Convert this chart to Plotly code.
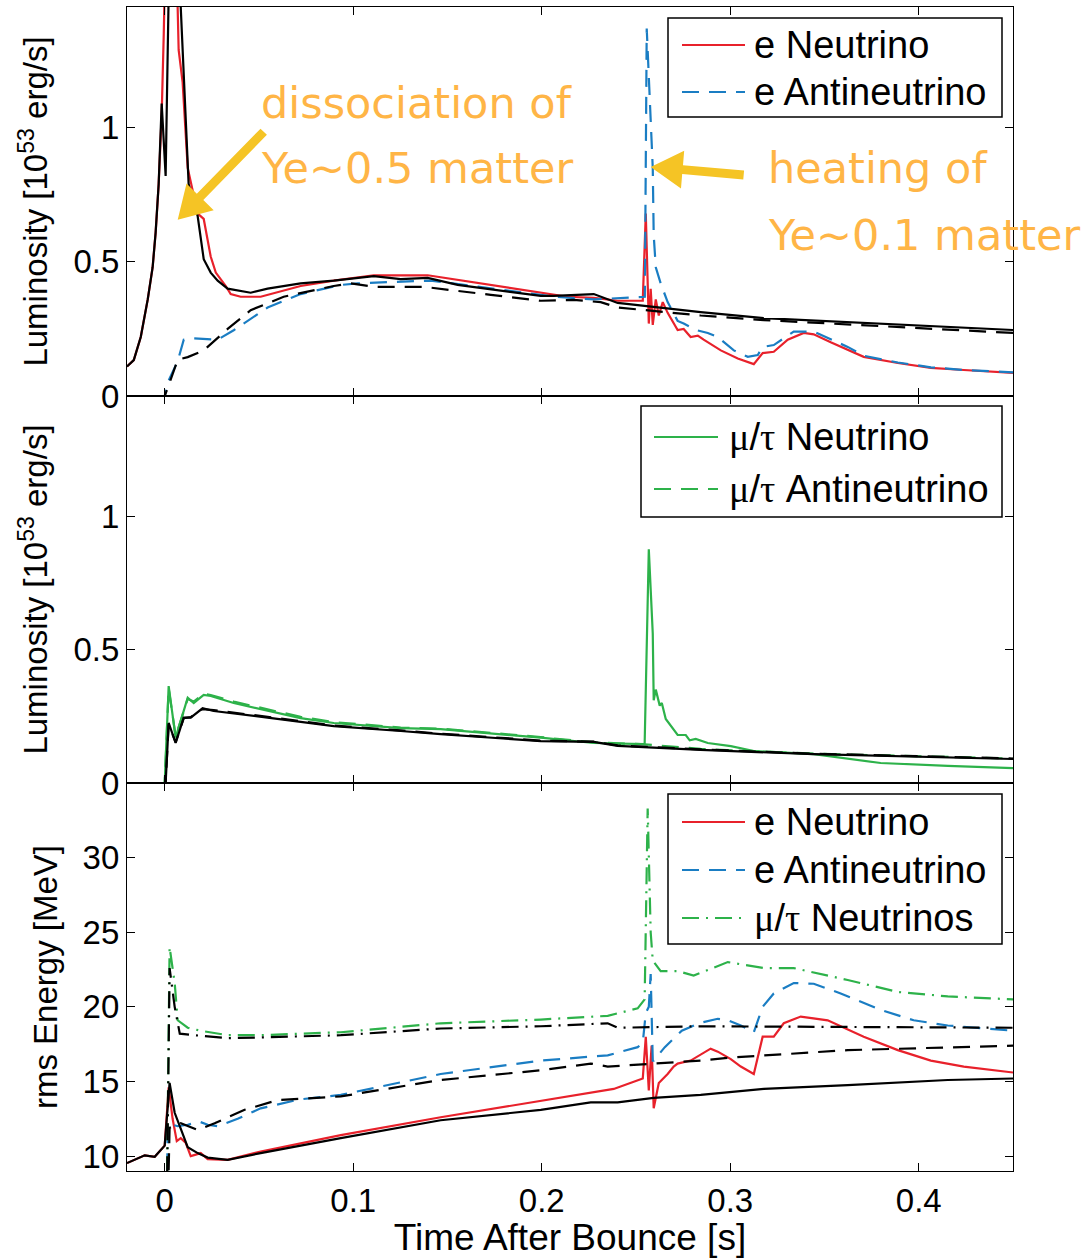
import math
import plotly.graph_objects as go
from plotly.subplots import make_subplots

# ---------------- colours / styles ----------------
RED = "#E8212B"
BLUE = "#1A7DC3"
GREEN = "#2DB24A"
BLACK = "#000000"
DASH = "17px,10px"
DASHDOT = "17px,7px,2px,7px"
FONT = "Liberation Sans, Arial, Helvetica, sans-serif"

# ---------------- panel 1: electron-flavour luminosities ----------------
t_nue = [-0.02, -0.0164, -0.0127, -0.009, -0.0064, -0.0048, -0.0032, -0.0016, -0.0005,
         0.003, 0.0074, 0.0095, 0.0122, 0.0175, 0.0207, 0.0244, 0.0271, 0.0324, 0.035,
         0.0403, 0.0509, 0.0721, 0.0897, 0.1109, 0.1395, 0.1995, 0.2138, 0.2276, 0.2403,
         0.2536, 0.2552, 0.2568, 0.2578, 0.2589, 0.2605, 0.2621, 0.2642, 0.2668, 0.2721,
         0.2753, 0.279, 0.2828, 0.2859, 0.295, 0.304, 0.3125, 0.3172, 0.3231, 0.3305,
         0.339, 0.3443, 0.3533, 0.3708, 0.3889, 0.4064, 0.4239, 0.45]
L_nue = [0.11, 0.134, 0.22, 0.36, 0.48, 0.61, 0.79, 1.05, 1.35,
         2.6, 1.29, 1.17, 0.85, 0.68, 0.66, 0.52, 0.46, 0.41, 0.38,
         0.37, 0.37, 0.41, 0.43, 0.45, 0.45, 0.385, 0.37, 0.366, 0.355,
         0.355, 0.68, 0.27, 0.40, 0.265, 0.36, 0.30, 0.35, 0.31, 0.246,
         0.25, 0.22, 0.225, 0.21, 0.17, 0.14, 0.119, 0.16, 0.165, 0.21,
         0.235, 0.23, 0.20, 0.146, 0.123, 0.105, 0.097, 0.086]

t_nue_ref = [-0.02, -0.0164, -0.0127, -0.009, -0.0064, -0.0048, -0.0032, -0.0016, 0.0005,
             0.001, 0.004, 0.0085, 0.0127, 0.0175, 0.0207, 0.0244, 0.0281, 0.0334, 0.0403,
             0.0456, 0.0546, 0.0721, 0.0897, 0.1109, 0.1252, 0.1395, 0.1554, 0.1995, 0.2064,
             0.2276, 0.2403, 0.2843, 0.3178, 0.45]
L_nue_ref = [0.11, 0.134, 0.22, 0.36, 0.48, 0.61, 0.79, 1.09, 0.82,
             1.2, 2.3, 1.45, 0.79, 0.67, 0.51, 0.46, 0.43, 0.40, 0.39,
             0.385, 0.40, 0.42, 0.43, 0.447, 0.436, 0.44, 0.414, 0.373, 0.373,
             0.38, 0.347, 0.313, 0.29, 0.246]

t_anue = [-0.02, 0.0, 0.0016, 0.0069, 0.0101, 0.0154, 0.0281, 0.0366, 0.0546, 0.0721,
          0.0934, 0.1024, 0.1199, 0.1411, 0.1639, 0.2064, 0.2276, 0.2435, 0.2547,
          0.2557, 0.2568, 0.2578, 0.2589, 0.2594, 0.2605, 0.2631, 0.2668, 0.2721,
          0.2753, 0.2817, 0.2881, 0.2934, 0.3019, 0.3093, 0.3146, 0.3172, 0.3231,
          0.3337, 0.3443, 0.3623, 0.3708, 0.3889, 0.4064, 0.4239, 0.45]
L_anue = [0.0, 0.0, 0.05, 0.13, 0.21, 0.215, 0.21, 0.245, 0.33, 0.38,
          0.414, 0.42, 0.425, 0.43, 0.41, 0.37, 0.36, 0.366, 0.37,
          1.37, 1.2, 1.0, 0.85, 0.6, 0.48, 0.42, 0.35, 0.28,
          0.27, 0.246, 0.235, 0.22, 0.17, 0.146, 0.153, 0.183, 0.19,
          0.24, 0.24, 0.183, 0.15, 0.125, 0.107, 0.097, 0.088]

t_anue_ref = [-0.02, 0.0, 0.0016, 0.0069, 0.0122, 0.0207, 0.0334, 0.0456, 0.0631, 0.0897,
              0.0987, 0.1109, 0.1374, 0.1517, 0.173, 0.1995, 0.217, 0.2313, 0.2403,
              0.2843, 0.3178, 0.45]
L_anue_ref = [0.0, 0.0, 0.03, 0.135, 0.145, 0.17, 0.25, 0.32, 0.37, 0.41,
              0.42, 0.407, 0.407, 0.396, 0.377, 0.355, 0.358, 0.35, 0.33,
              0.30, 0.283, 0.235]

# ---------------- panel 2: heavy-flavour luminosities ----------------
t_nux = [-0.02, 0.0, 0.0021, 0.0058, 0.0122, 0.0154, 0.0207, 0.0244, 0.0366, 0.0546,
         0.0721, 0.0897, 0.1252, 0.1464, 0.1995, 0.2276, 0.2525, 0.2546, 0.2568,
         0.2589, 0.2594, 0.2605, 0.2626, 0.2637, 0.2658, 0.2721, 0.2764, 0.2785,
         0.2817, 0.2881, 0.3003, 0.3125, 0.3443, 0.3798, 0.4154, 0.45]
L_nux = [0.0, 0.0, 0.363, 0.17, 0.32, 0.30, 0.33, 0.326, 0.30, 0.27,
         0.243, 0.225, 0.206, 0.202, 0.17, 0.15, 0.146, 0.146, 0.876,
         0.56, 0.31, 0.35, 0.29, 0.30, 0.24, 0.18, 0.18, 0.16,
         0.165, 0.15, 0.138, 0.12, 0.108, 0.075, 0.064, 0.056]

t_anux = [-0.02, 0.0, 0.0021, 0.0058, 0.0122, 0.0154, 0.0207, 0.0244, 0.0366, 0.0546,
          0.0721, 0.0897, 0.1252, 0.1464, 0.1995, 0.2276, 0.2525, 0.2843, 0.3443, 0.45]
L_anux = [0.0, 0.0, 0.355, 0.175, 0.315, 0.305, 0.335, 0.33, 0.305, 0.275,
          0.248, 0.228, 0.208, 0.204, 0.172, 0.152, 0.146, 0.128, 0.11, 0.092]

t_nux_ref = [-0.02, 0.0005, 0.0021, 0.0058, 0.0101, 0.0138, 0.0201, 0.026, 0.0546,
             0.0897, 0.1252, 0.1464, 0.1995, 0.2276, 0.2403, 0.2843, 0.3443, 0.45]
L_nux_ref = [0.0, 0.0, 0.225, 0.15, 0.245, 0.245, 0.28, 0.27, 0.245,
             0.213, 0.195, 0.183, 0.157, 0.154, 0.139, 0.124, 0.108, 0.09]
L_anux_ref = [0.0, 0.0, 0.22, 0.152, 0.243, 0.247, 0.277, 0.273, 0.248,
              0.215, 0.197, 0.185, 0.159, 0.155, 0.141, 0.126, 0.11, 0.092]

# ---------------- panel 3: rms energies ----------------
t_Enue = [-0.02, -0.0106, -0.0053, 0.0, 0.0021, 0.0042, 0.0064, 0.0085, 0.0111, 0.0138,
          0.0165, 0.0191, 0.0228, 0.0334, 0.0509, 0.0934, 0.1464, 0.1995, 0.226, 0.2382,
          0.2536, 0.2552, 0.2568, 0.2583, 0.2594, 0.2621, 0.2668, 0.27, 0.2721, 0.279,
          0.2896, 0.2934, 0.3003, 0.3056, 0.3125, 0.3172, 0.3231, 0.3284, 0.3374,
          0.3517, 0.3708, 0.3889, 0.4064, 0.4239, 0.45]
E_nue = [9.53, 10.05, 9.95, 10.7, 14.6, 12.5, 11.0, 11.2, 10.9, 10.0,
         10.1, 10.2, 9.8, 9.75, 10.3, 11.4, 12.6, 13.7, 14.2, 14.5,
         15.2, 18.0, 14.4, 17.4, 13.2, 14.9, 15.5, 16.0, 16.2, 16.4,
         17.2, 17.0, 16.5, 16.0, 15.5, 18.0, 18.0, 18.9, 19.35,
         19.1, 18.0, 17.1, 16.4, 16.0, 15.6]

t_Enue_ref = [-0.02, -0.0106, -0.0053, 0.0, 0.0026, 0.0053, 0.0095, 0.0122, 0.0175,
              0.0228, 0.0334, 0.0509, 0.0934, 0.1464, 0.1995, 0.226, 0.2403, 0.2594,
              0.2843, 0.3003, 0.3178, 0.3623, 0.4154, 0.45]
E_nue_ref = [9.53, 10.05, 9.95, 10.7, 14.9, 12.9, 11.5, 10.6, 10.2,
             9.9, 9.75, 10.2, 11.2, 12.4, 13.1, 13.6, 13.6, 13.9,
             14.1, 14.3, 14.5, 14.75, 15.1, 15.2]

t_Eanue = [0.0005, 0.0016, 0.0069, 0.0122, 0.0186, 0.0228, 0.0281, 0.0387, 0.0509,
           0.0717, 0.0934, 0.1464, 0.1995, 0.235, 0.2509, 0.2536, 0.2552, 0.2568,
           0.2578, 0.2589, 0.2594, 0.2653, 0.2743, 0.2833, 0.2934, 0.2987, 0.3056,
           0.3125, 0.3172, 0.3231, 0.3337, 0.3443, 0.3586, 0.3798, 0.3973, 0.4154, 0.45]
E_anue = [0.0, 12.2, 12.0, 12.1, 12.3, 12.1, 12.0, 12.5, 13.2,
          13.8, 14.1, 15.5, 16.4, 16.75, 17.3, 17.6, 19.6, 20.0,
          22.2, 16.4, 16.4, 17.3, 18.4, 18.9, 19.2, 19.1, 18.75,
          18.3, 20.0, 20.9, 21.6, 21.55, 20.9, 19.8, 19.1, 18.75, 18.4]

t_Eanue_ref = [0.0005, 0.0026, 0.0085, 0.0175, 0.0265, 0.0424, 0.0599, 0.0934, 0.1464,
               0.1995, 0.226, 0.235, 0.2843, 0.3003, 0.3623, 0.45]
E_anue_ref = [0.0, 11.9, 12.2, 11.75, 12.2, 13.1, 13.75, 14.0, 15.1,
              15.75, 16.2, 16.0, 16.4, 16.6, 17.1, 17.4]

t_Enux = [0.0005, 0.0026, 0.0053, 0.0069, 0.0122, 0.0191, 0.0334, 0.0509, 0.0934,
          0.1464, 0.1995, 0.235, 0.2509, 0.2546, 0.2562, 0.2578, 0.2589, 0.2631,
          0.2721, 0.2806, 0.2987, 0.3178, 0.3337, 0.3623, 0.3889, 0.4154, 0.45]
E_nux = [0.0, 24.0, 21.6, 19.1, 18.6, 18.4, 18.1, 18.1, 18.3,
         18.9, 19.15, 19.4, 19.9, 20.5, 33.3, 25.0, 23.1, 22.4,
         22.4, 22.1, 23.0, 22.6, 22.6, 21.8, 21.0, 20.7, 20.5]

t_Enux_ref = [0.0005, 0.0026, 0.0053, 0.008, 0.0159, 0.0334, 0.0509, 0.0934, 0.1464,
              0.1995, 0.235, 0.2403, 0.2843, 0.45]
E_nux_ref = [0.0, 22.6, 20.0, 18.2, 18.1, 17.9, 17.95, 18.1, 18.55,
             18.7, 18.9, 18.6, 18.7, 18.6]

# ---------------- axes ----------------
x_range = [-0.02, 0.45]
x_ticks = [0, 0.1, 0.2, 0.3, 0.4]
x_ticktext = ["0", "0.1", "0.2", "0.3", "0.4"]
lum_range = [0, 1.45]
lum_ticks = [0, 0.5, 1]
lum_ticktext = ["0", "0.5", "1"]
erms_range = [9, 35]
erms_ticks = [10, 15, 20, 25, 30]

MU_TAU = ("<span style='font-family:Liberation Serif'>\u03bc</span>/"
          "<span style='font-family:Liberation Serif'>\u03c4</span>")
legend_rows = [
    # panel, colour, dash, label
    (1, RED, "solid", "e Neutrino"),
    (1, BLUE, DASH, "e Antineutrino"),
    (2, GREEN, "solid", MU_TAU + " Neutrino"),
    (2, GREEN, DASH, MU_TAU + " Antineutrino"),
    (3, RED, "solid", "e Neutrino"),
    (3, BLUE, DASH, "e Antineutrino"),
    (3, GREEN, DASHDOT, MU_TAU + " Neutrinos"),
]

# ---------------- figure geometry (pixels) ----------------
W, H = 1085, 1258
M_L, M_R, M_T, M_B = 127, 72, 7, 87
PW, PH = W - M_L - M_R, H - M_T - M_B


def paper_x(px):
    return (px - M_L) / PW


def paper_y(py):
    return (H - M_B - py) / PH


fig = make_subplots(rows=3, cols=1, shared_xaxes=True, vertical_spacing=0)


def line(x, y, color, dash, row=1, width=2.2):
    fig.add_trace(
        go.Scatter(
            x=x, y=y, mode="lines",
            line=dict(color=color, width=width, dash=dash),
            showlegend=False, hoverinfo="skip",
        ),
        row=row, col=1,
    )


# panel 1
line(t_nue, L_nue, RED, "solid", 1)
line(t_anue, L_anue, BLUE, DASH, 1)
line(t_nue_ref, L_nue_ref, BLACK, "solid", 1)
line(t_anue_ref, L_anue_ref, BLACK, DASH, 1)

# panel 2
line(t_nux, L_nux, GREEN, "solid", 2)
line(t_anux, L_anux, GREEN, DASH, 2)
line(t_nux_ref, L_nux_ref, BLACK, "solid", 2)
line(t_nux_ref, L_anux_ref, BLACK, DASH, 2)

# panel 3
line(t_Enue, E_nue, RED, "solid", 3)
line(t_Eanue, E_anue, BLUE, DASH, 3)
line(t_Enux, E_nux, GREEN, DASHDOT, 3)
line(t_Enue_ref, E_nue_ref, BLACK, "solid", 3)
line(t_Eanue_ref, E_anue_ref, BLACK, DASH, 3)
line(t_Enux_ref, E_nux_ref, BLACK, DASHDOT, 3)

axis_common = dict(
    showline=True, linecolor="black", linewidth=1.2, mirror="ticks",
    ticks="inside", ticklen=8, tickwidth=1, tickcolor="black",
    showgrid=False, zeroline=False,
    tickfont=dict(family=FONT, size=33, color="black"),
)

domains = [[0.6658, 1.0], [0.3333, 0.6658], [0.0, 0.3333]]
for i in range(3):
    fig.update_xaxes(range=x_range, tickvals=x_ticks, ticktext=x_ticktext,
                     row=i + 1, col=1, **axis_common)
    fig.update_yaxes(domain=domains[i], row=i + 1, col=1, **axis_common)

fig.update_xaxes(
    title=dict(text="Time After Bounce [s]", font=dict(family=FONT, size=37, color="black"),
               standoff=2),
    row=3, col=1,
)
ytitle_font = dict(family=FONT, size=33, color="black")
fig.update_yaxes(range=lum_range, tickvals=lum_ticks, ticktext=lum_ticktext,
                 title=dict(text="Luminosity [10<sup>53</sup> erg/s]", font=ytitle_font),
                 row=1, col=1)
fig.update_yaxes(range=lum_range, tickvals=lum_ticks, ticktext=lum_ticktext,
                 title=dict(text="Luminosity [10<sup>53</sup> erg/s]", font=ytitle_font),
                 row=2, col=1)
fig.update_yaxes(range=erms_range, tickvals=erms_ticks,
                 title=dict(text="rms Energy [MeV]", font=ytitle_font),
                 row=3, col=1)

# ---------------- legend boxes (drawn in paper space) ----------------
# panel -> (box left, box right, box top, box bottom, sample x0, sample x1, text x, row centres)
legend_boxes = {
    1: (668, 1002, 18, 117, 682, 745, 752, [45, 92]),
    2: (641, 1002, 406, 517, 654, 718, 727, [437, 489]),
    3: (668, 1002, 794, 944, 682, 745, 752, [822, 870, 918]),
}
legend_font = dict(family=FONT, size=38, color="black")
counters = {1: 0, 2: 0, 3: 0}
for panel, (bx0, bx1, by0, by1, sx0, sx1, tx, rows) in legend_boxes.items():
    fig.add_shape(type="rect", xref="paper", yref="paper",
                  x0=paper_x(bx0), x1=paper_x(bx1), y0=paper_y(by1), y1=paper_y(by0),
                  fillcolor="white", line=dict(color="black", width=1.5), layer="above")
for panel, color, dash, label in legend_rows:
    bx0, bx1, by0, by1, sx0, sx1, tx, rows = legend_boxes[panel]
    yc = rows[counters[panel]]
    counters[panel] += 1
    fig.add_shape(type="line", xref="paper", yref="paper",
                  x0=paper_x(sx0), x1=paper_x(sx1), y0=paper_y(yc), y1=paper_y(yc),
                  line=dict(color=color, width=2.2, dash=dash), layer="above")
    fig.add_annotation(x=paper_x(tx), y=paper_y(yc), xref="paper", yref="paper",
                       text=label, showarrow=False, xanchor="left", yanchor="middle",
                       font=legend_font)

# ---------------- notes with arrows ----------------
ORANGE = "#FFB546"
ARROW = "#F5C425"
note_font = dict(family="DejaVu Sans", size=43, color=ORANGE)


def arrow_path(dx, dy, head_len=32.0, head_half=19.0, shaft_half=4.5):
    """Filled arrow polygon in pixels: tip at the origin, tail at (dx, dy), y up."""
    length = math.hypot(dx, dy)
    ux, uy = dx / length, dy / length
    nx, ny = -uy, ux
    bx, by = ux * head_len, uy * head_len
    pts = [
        (0.0, 0.0),
        (bx + nx * head_half, by + ny * head_half),
        (bx + nx * shaft_half, by + ny * shaft_half),
        (dx + nx * shaft_half, dy + ny * shaft_half),
        (dx - nx * shaft_half, dy - ny * shaft_half),
        (bx - nx * shaft_half, by - ny * shaft_half),
        (bx - nx * head_half, by - ny * head_half),
    ]
    return "M" + " L".join(f"{px:.1f},{py:.1f}" for px, py in pts) + " Z"


# (tip x, tip y, tail offset in px)
arrows = [
    (0.0069, 0.657, 86, 88),
    (0.2578, 0.854, 93, -8),
]
for ax_, ay_, dx, dy in arrows:
    fig.add_shape(
        type="path", xref="x", yref="y",
        xsizemode="pixel", ysizemode="pixel", xanchor=ax_, yanchor=ay_,
        path=arrow_path(dx, dy), fillcolor=ARROW, line=dict(width=0), layer="above",
    )

notes = [
    (0.0499, 1.093, "dissociation of"),
    (0.0499, 0.851, "Ye~0.5 matter"),
    (0.3188, 0.851, "heating of"),
    (0.3188, 0.601, "Ye~0.1 matter"),
]
for nx_, ny_, txt in notes:
    fig.add_annotation(x=nx_, y=ny_, xref="x", yref="y", text=txt, showarrow=False,
                       xanchor="left", yanchor="middle", font=note_font)

fig.update_layout(
    width=W, height=H,
    margin=dict(l=M_L, r=M_R, t=M_T, b=M_B),
    paper_bgcolor="white", plot_bgcolor="white",
    font=dict(family=FONT, color="black"),
    showlegend=False,
)

fig.write_html("out.html")
